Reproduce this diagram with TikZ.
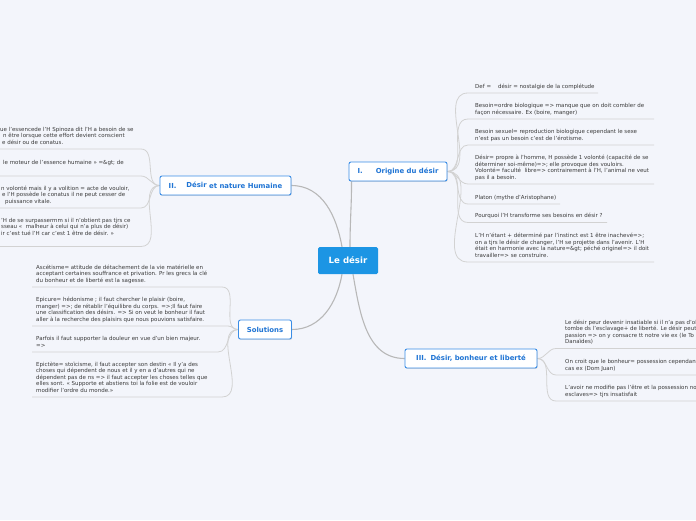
\documentclass[tikz,border=0pt]{standalone}
\usepackage{fontspec}
\setmainfont{DejaVu Sans}
\usetikzlibrary{shadows}
\definecolor{bg}{HTML}{F3F5FB}
\definecolor{rootblue}{HTML}{1C95E4}
\definecolor{topicblue}{HTML}{3A8DE6}
\definecolor{topictext}{HTML}{1F74D4}
\definecolor{rootline}{HTML}{B8B8B8}
\definecolor{sublinec}{HTML}{D2D2D2}
\definecolor{subtext}{HTML}{3A3A3A}
\pgfdeclarelayer{bottom}
\pgfdeclarelayer{back}
\pgfsetlayers{bottom,back,main}
\newcommand{\mmsub}[8]{%
  \coordinate (#1a) at (#4,#3);
  \coordinate (#1b) at (#5,#3);
  \node[sub] (#1) at (#6,#3-2.7) {#8};
  \begin{pgfonlayer}{back}
  \draw[sline] (#2) to[out=#7,in=#7+180] (#1a) -- (#1b);
  \end{pgfonlayer}
}
\begin{document}
\begin{tikzpicture}[x=1pt,y=-1pt,
  root/.style={fill=rootblue, text=white, font=\fontsize{8.6}{10}\selectfont\bfseries, rounded corners=1.5pt, minimum width=60pt, minimum height=27pt, inner sep=0pt},
  topic/.style={fill=white, draw=topicblue, line width=0.9pt, text=topictext, font=\fontsize{6.9}{8}\selectfont\bfseries, rounded corners=2pt, minimum height=19pt, inner sep=0pt, drop shadow={shadow xshift=0.6pt, shadow yshift=-0.9pt, opacity=0.25}},
  sub/.style={font=\fontsize{5.5}{6.4}\selectfont, text=subtext, align=left, inner sep=0pt, anchor=south west, execute at end node=\strut},
  rline/.style={draw=rootline, line width=1.1pt},
  sline/.style={draw=sublinec, line width=0.8pt},
]
\begin{pgfonlayer}{bottom}
\fill[bg] (0,0) rectangle (696,520);
\end{pgfonlayer}
\useasboundingbox (0,0) rectangle (696,520);

% root and main topics
\node[root] (root) at (348,260.5) {Le désir};
\node[topic, minimum width=98pt] (t1) at (398,171.5) {I.\hspace{13pt}Origine du désir};
\node[topic, minimum width=131pt] (t2) at (225.5,185.5) {II.\hspace{10pt}\raisebox{0.8pt}{Désir} et nature Humaine};
\node[topic, minimum width=53pt] (t3) at (265,329.5) {Solutions};
\node[topic, minimum width=132pt] (t4) at (471,358.5) {III.\hspace{4pt}Désir, bonheur et liberté};

\begin{pgfonlayer}{back}
\draw[rline] ([xshift=2pt]root.north) to[out=90,in=-90] ([xshift=3pt]t1.south west);
\draw[rline] ([xshift=-6pt]root.north) to[out=100,in=0] (t2.east);
\draw[rline] ([xshift=-6pt]root.south) to[out=-100,in=0] (t3.east);
\draw[rline] ([xshift=5pt]root.south) to[out=-80,in=180] (t4.west);
\end{pgfonlayer}

% I. Origine du desir
\mmsub{ia}{t1.east}{93}{468}{598}{475}{0}{Def =\ \ \ \ désir = nostalgie de la complétude}
\mmsub{ib}{t1.east}{119}{468}{654}{475}{0}{Besoin=ordre biologique => manque que on doit combler de\\façon nécessaire. Ex (boire, manger)}
\mmsub{ic}{t1.east}{145}{468}{654}{475}{0}{Besoin sexuel= reproduction biologique cependant le sexe\\n'est pas un besoin c'est de l'érotisme.}
\mmsub{id}{t1.east}{184}{468}{654}{475}{0}{Désir= propre à l'homme, H possède 1 volonté (capacité de se\\déterminer soi-même)=>; elle provoque des vouloirs.\\Volonté= faculté\ \ libre=> contrairement à l'H, l'animal ne veut\\pas il a besoin.}
\mmsub{ie}{t1.east}{204}{468}{560}{475}{0}{Platon (mythe d'Aristophane)}
\mmsub{if}{t1.east}{222.5}{468}{607}{475}{0}{Pourquoi l'H transforme ses besoins en désir ?}
\mmsub{ig}{t1.east}{262}{468}{654}{475}{0}{L'H n'étant + déterminé par l'instinct est 1 être inachevé=>;\\on a tjrs le désir de changer, l'H se projette dans l'avenir. L'H\\était en harmonie avec la nature=\&gt; péché originel=> il doit\\travailler=> se construire.}

% II. Desir et nature humaine
\mmsub{iia}{t2.west}{149}{141}{0}{0}{180}{ue l'essencede l'H Spinoza dit l'H a besoin de se\\\hspace*{3pt}n être lorsque cette effort devient conscient\\\hspace*{2pt}e désir ou de conatus.}
\mmsub{iib}{t2.west}{176}{141}{0}{3}{180}{le moteur de l'essence humaine » =\&gt; de\\\mbox{}}
\mmsub{iic}{t2.west}{208}{141}{0}{1}{180}{n volonté mais il y a volition = acte de vouloir,\\\hspace*{1pt}e l'H possède le conatus il ne peut cesser de\\\hspace*{4pt}puissance vitale.}
\mmsub{iid}{t2.west}{246.5}{141}{0}{1}{180}{'H de se surpassermm si il n'obtient pas tjrs ce\\sseau «\ \ malheur à celui qui n'a plus de désir)\\ir c'est tué l'H car c'est 1 être de désir. »\\\mbox{}}

% Solutions
\mmsub{sa}{t3.west}{287}{222}{32}{36}{180}{Ascétisme= attitude de détachement de la vie matérielle en\\acceptant certaines souffrance et privation. Pr les grecs la clé\\du bonheur et de liberté est la sagesse.}
\mmsub{sb}{t3.west}{326}{228}{32}{36}{180}{Epicure= hédonisme ; il faut chercher le plaisir (boire,\\manger) =>; de rétablir l'équilibre du corps. =>;Il faut faire\\une classification des désirs. => Si on veut le bonheur il faut\\aller à la recherche des plaisirs que nous pouvions satisfaire.}
\mmsub{sc}{t3.west}{352}{218}{32}{36}{180}{Parfois il faut supporter la douleur en vue d'un bien majeur.\\=>}
\mmsub{sd}{t3.west}{397}{222}{32}{36}{180}{Epictète= stoïcisme, il faut accepter son destin « Il y'a des\\choses qui dépendent de nous et il y en a d'autres qui ne\\dépendent pas de ns => il faut accepter les choses telles que\\elles sont. « Supporte et abstiens toi la folie est de vouloir\\modifier l'ordre du monde.»}

% III. Desir, bonheur et liberte
\mmsub{iiia}{t4.east}{348.5}{556}{700}{565}{0}{Le désir peur devenir insatiable si il n'a pas d'ob\\tombe ds l'esclavage+ de liberté. Le désir peut\\passion => on y consacre tt notre vie ex (le To\\Danaïdes)}
\mmsub{iiib}{t4.east}{375}{556}{700}{565}{0}{On croit que le bonheur= possession cependant\\cas ex (Dom Juan)}
\mmsub{iiic}{t4.east}{401}{556}{700}{565}{0}{L'avoir ne modifie pas l'être et la possession no\\esclaves=> tjrs insatisfait}
\end{tikzpicture}
\end{document}
